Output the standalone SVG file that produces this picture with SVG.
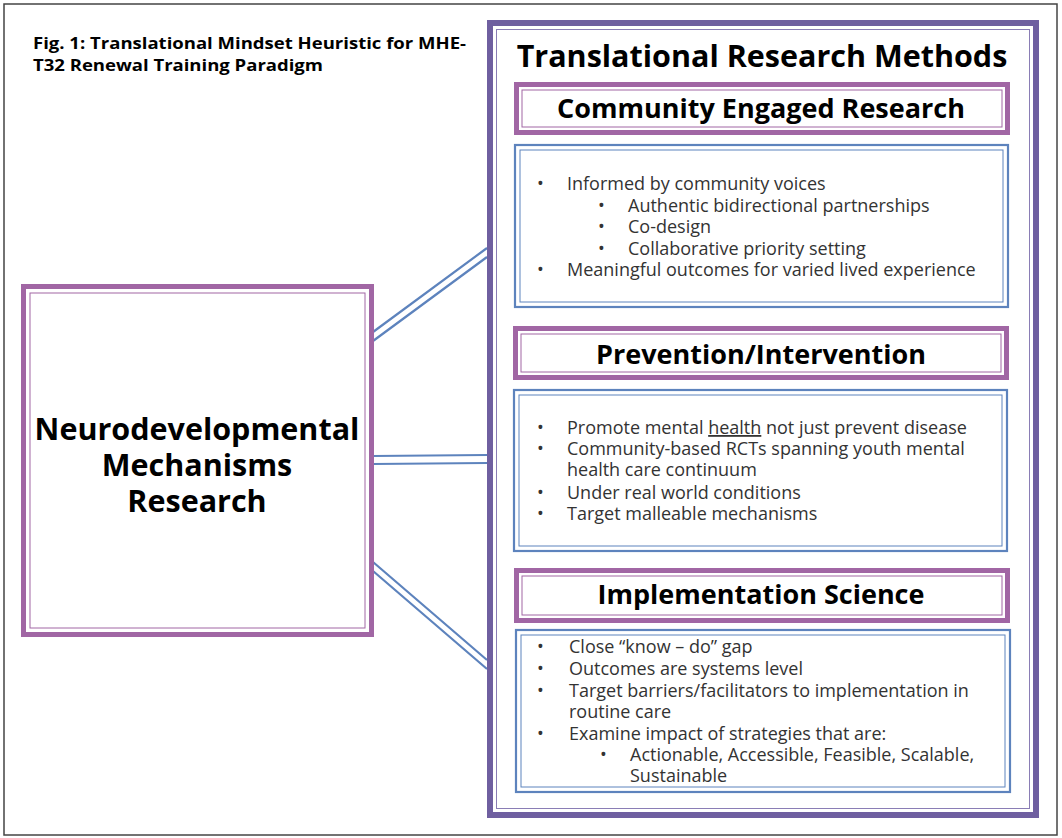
<svg xmlns="http://www.w3.org/2000/svg" width="1062" height="838" viewBox="0 0 1062 838">
<style>
text{font-family:"Open Sans","Liberation Sans",sans-serif}
.b{font-weight:bold;fill:#000}
.t{font-size:18px;fill:#333}
.pt{fill:none;stroke:#a166a4;stroke-width:5}
.pi{fill:none;stroke:#a166a4;stroke-width:1}
.bt{fill:none;stroke:#5d83bd;stroke-width:2.2}
.bi{fill:none;stroke:#5d83bd;stroke-width:1}
.c{stroke:#5d83bd;stroke-width:2.2;fill:none}
</style>
<rect x="4" y="4" width="1053" height="831" fill="#fff" stroke="#444" stroke-width="1.5"/>
<text x="33" y="49" class="b" font-size="16.5" textLength="433" lengthAdjust="spacingAndGlyphs">Fig. 1: Translational Mindset Heuristic for MHE-</text>
<text x="33" y="71" class="b" font-size="16.5" textLength="290" lengthAdjust="spacingAndGlyphs">T32 Renewal Training Paradigm</text>
<g id="connectors">
<path class="c" d="M373 332 L487 248 M373 341 L487 257"/>
<path class="c" d="M373 456 L487 455 M373 464 L487 463"/>
<path class="c" d="M373 562 L487 660 M373 571 L487 669"/>
</g>
<g id="neuro">
<rect x="23.5" y="286.5" width="348" height="348" class="pt" fill="#fff"/>
<rect x="30" y="293" width="335" height="335" class="pi"/>
<text x="197" y="440" class="b" font-size="30.5" text-anchor="middle">Neurodevelopmental</text>
<text x="197" y="476" class="b" font-size="30.5" text-anchor="middle">Mechanisms</text>
<text x="197" y="512" class="b" font-size="30.5" text-anchor="middle">Research</text>
</g>
<g id="methods">
<rect x="490" y="23" width="546" height="792" fill="#fff" stroke="#6f5fa0" stroke-width="6"/>
<rect x="496.5" y="29.5" width="533" height="779" fill="none" stroke="#8a7db5" stroke-width="1"/>
<text x="762" y="67" class="b" font-size="30.5" text-anchor="middle">Translational Research Methods</text>
</g>
<g id="ce-head">
<rect x="516.5" y="84.5" width="491" height="48" class="pt" fill="#fff"/>
<rect x="522" y="90" width="480" height="37" class="pi"/>
<text x="761" y="118" class="b" font-size="27" text-anchor="middle">Community Engaged Research</text>
</g>
<g id="ce-body">
<rect x="515" y="145" width="493" height="162" class="bt"/>
<rect x="520" y="150" width="483" height="152" class="bi"/>
<text class="t"><tspan x="537" y="190">•</tspan><tspan x="567" y="190">Informed by community voices</tspan>
<tspan x="598" y="212">•</tspan><tspan x="628" y="212">Authentic bidirectional partnerships</tspan>
<tspan x="598" y="233">•</tspan><tspan x="628" y="233">Co-design</tspan>
<tspan x="598" y="255">•</tspan><tspan x="628" y="255">Collaborative priority setting</tspan>
<tspan x="537" y="276">•</tspan><tspan x="567" y="276">Meaningful outcomes for varied lived experience</tspan></text>
</g>
<g id="pi-head">
<rect x="515.5" y="328.5" width="491" height="49" class="pt" fill="#fff"/>
<rect x="521" y="334" width="480" height="38" class="pi"/>
<text x="761" y="364" class="b" font-size="27" text-anchor="middle">Prevention/Intervention</text>
</g>
<g id="pi-body">
<rect x="514" y="390" width="493" height="161" class="bt"/>
<rect x="519" y="395" width="483" height="151" class="bi"/>
<text class="t"><tspan x="537" y="434">•</tspan><tspan x="567" y="434">Promote mental </tspan><tspan text-decoration="underline">health</tspan><tspan> not just prevent disease</tspan>
<tspan x="537" y="455">•</tspan><tspan x="567" y="455">Community-based RCTs spanning youth mental</tspan>
<tspan x="567" y="476">health care continuum</tspan>
<tspan x="537" y="499">•</tspan><tspan x="567" y="499">Under real world conditions</tspan>
<tspan x="537" y="520">•</tspan><tspan x="567" y="520">Target malleable mechanisms</tspan></text>
</g>
<g id="is-head">
<rect x="516.5" y="570.5" width="491" height="50" class="pt" fill="#fff"/>
<rect x="522" y="576" width="480" height="39" class="pi"/>
<text x="761" y="604" class="b" font-size="27" text-anchor="middle">Implementation Science</text>
</g>
<g id="is-body">
<rect x="516" y="630" width="494" height="162" class="bt"/>
<rect x="521" y="635" width="484" height="152" class="bi"/>
<text class="t"><tspan x="537" y="653">•</tspan><tspan x="569" y="653">Close “know – do” gap</tspan>
<tspan x="537" y="675">•</tspan><tspan x="569" y="675">Outcomes are systems level</tspan>
<tspan x="537" y="697">•</tspan><tspan x="569" y="697">Target barriers/facilitators to implementation in</tspan>
<tspan x="569" y="718">routine care</tspan>
<tspan x="537" y="740">•</tspan><tspan x="569" y="740">Examine impact of strategies that are:</tspan>
<tspan x="600" y="761">•</tspan><tspan x="630" y="761">Actionable, Accessible, Feasible, Scalable,</tspan>
<tspan x="630" y="782">Sustainable</tspan></text>
</g>
</svg>
